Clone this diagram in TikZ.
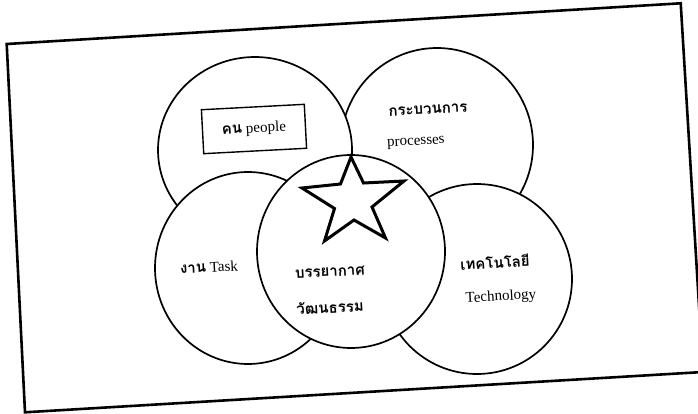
\documentclass[tikz,border=0pt]{standalone}
\usepackage{fontspec}
\setmainfont{Liberation Serif}
\newfontfamily\thaifont[Script=Thai]{Loma}
\usetikzlibrary{shapes.geometric}
\begin{document}
\begin{tikzpicture}[x=1pt,y=-1pt,
  ring/.style={ellipse, draw=black, fill=white, line width=1.7pt, inner sep=0pt},
  lbl/.style={font=\fontsize{15}{18}\selectfont, inner sep=0pt, rotate=3},
  thai/.style={font=\fontsize{15}{18}\selectfont\thaifont\bfseries, inner sep=0pt, rotate=3},
  boxed/.style={draw=black, line width=1.4pt, fill=white, inner sep=0pt, rotate=3,
    minimum width=103pt, minimum height=44pt, font=\fontsize{15}{18}\selectfont},
  frame/.style={line width=2.6pt, line join=miter},
  starline/.style={line width=3pt, line join=miter, fill=white}
]
\useasboundingbox (0,0) rectangle (698,414);
\clip (0,0) rectangle (698,414);
\fill[white] (0,0) rectangle (698,414);
% frame (scanned, slightly rotated)
\coordinate (f1) at (6.7,44);
\coordinate (f2) at (680.7,3.3);
\coordinate (f3) at (703,372);
\coordinate (f4) at (25,412.3);
\draw[frame] (f1) -- (f2) -- (f3) -- (f4) -- cycle;
% circles
\node[ring, minimum width=192pt, minimum height=194pt] (proc) at (437,145) {};
\node[ring, minimum width=194pt, minimum height=186pt] (peop) at (255,150) {};
\node[ring, minimum width=186pt, minimum height=192pt] (task) at (248,268) {};
\node[ring, minimum width=190pt, minimum height=190pt] (tech) at (477,279) {};
\node[ring, minimum width=188pt, minimum height=193pt] (cult) at (351,251.5) {};
% star
\draw[starline] (351,157) -- (363.5,183) -- (404,181) -- (372,207) -- (385.5,238)
  -- (354,220) -- (324.5,241) -- (334.5,208.5) -- (302,188) -- (340.5,184) -- cycle;
% labels
\node[boxed] (people) at (254,129) {{\thaifont\bfseries คน} people};
\node[thai] (procth) at (428,110) {กระบวนการ};
\node[lbl] (procen) at (416,143) {processes};
\node[lbl] (tasklbl) at (209,267) {{\thaifont\bfseries งาน} Task};
\node[thai] (cult1) at (330,272) {บรรยากาศ};
\node[thai] (cult2) at (330,307) {วัฒนธรรม};
\node[thai] (techth) at (495,262) {เทคโนโลยี};
\node[lbl] (techen) at (501,297) {Technology};
\end{tikzpicture}
\end{document}
